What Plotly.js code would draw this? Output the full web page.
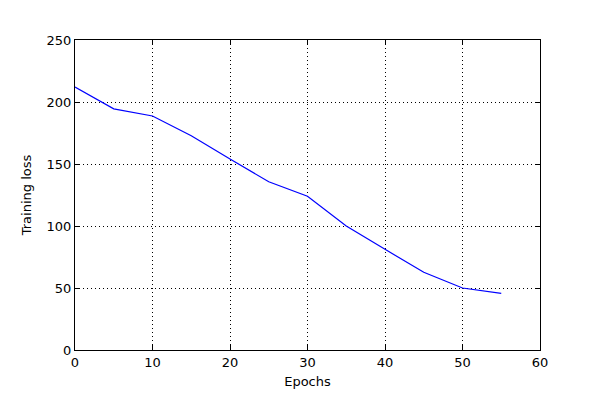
<!DOCTYPE html>
<html>
<head>
<meta charset="utf-8">
<script src="https://cdn.plot.ly/plotly-3.0.1.min.js"></script>
<style>html,body{margin:0;padding:0;background:#fff;}#chart{width:600px;height:400px;}</style>
</head>
<body>
<div id="chart"></div>
<script>
const epochs = [0, 5, 10, 15, 20, 25, 30, 35, 40, 45, 50, 55];
const trainingLoss = [212, 194.5, 188.7, 172.8, 154, 135.7, 124, 100, 81.2, 62.7, 50, 45.7];
const xTicks = [0, 10, 20, 30, 40, 50, 60];
const yTicks = [0, 50, 100, 150, 200, 250];

const axisCommon = {
  showline: true, linecolor: '#000', linewidth: 1, mirror: 'ticks',
  ticks: 'inside', ticklen: 5, tickcolor: '#000', tickwidth: 1,
  showgrid: true, gridcolor: '#000', gridwidth: 1, griddash: '1px,3px',
  zeroline: false, tickfont: {family: 'DejaVu Sans', size: 13, color: '#000'}
};

Plotly.newPlot('chart', [{
  x: epochs, y: trainingLoss, type: 'scatter', mode: 'lines',
  line: {color: '#0000ff', width: 1.2}
}], {
  width: 600, height: 400,
  margin: {l: 75, r: 60, t: 40, b: 50},
  paper_bgcolor: '#fff', plot_bgcolor: '#fff',
  showlegend: false,
  xaxis: Object.assign({}, axisCommon, {
    range: [0, 60], tickvals: xTicks, ticktext: xTicks.map(String),
    title: {text: 'Epochs', font: {family: 'DejaVu Sans', size: 13, color: '#000'}, standoff: 8}
  }),
  yaxis: Object.assign({}, axisCommon, {
    range: [0, 250], tickvals: yTicks, ticktext: yTicks.map(String),
    title: {text: 'Training loss', font: {family: 'DejaVu Sans', size: 13, color: '#000'}, standoff: 12}
  })
}, {displayModeBar: false, staticPlot: true});
</script>
</body>
</html>
